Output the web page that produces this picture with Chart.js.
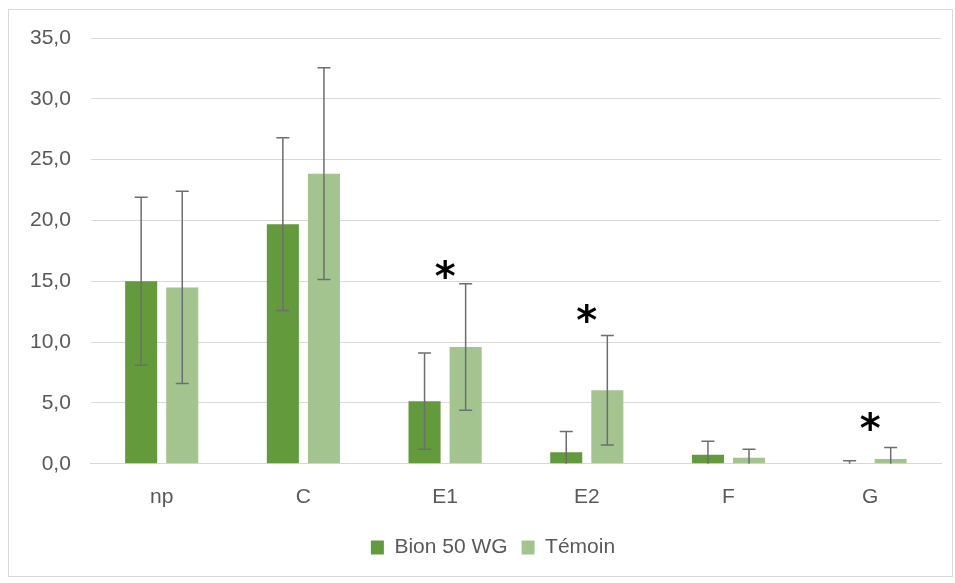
<!DOCTYPE html>
<html>
<head>
<meta charset="utf-8">
<script src="https://cdn.jsdelivr.net/npm/chart.js@4"></script>
<style>
  body { margin: 0; background: #fff; }
  #wrap { position: relative; width: 955px; height: 583px; }
  #frame { position: absolute; left: 8px; top: 9px; width: 945px; height: 568px; border: 1px solid #d9d9d9; box-sizing: border-box; pointer-events: none; }
  canvas { position: absolute; left: 0; top: 0; }
</style>
</head>
<body>
<div id="wrap">
  <canvas id="chart" width="955" height="583"></canvas>
  <div id="frame"></div>
</div>
<script>
// data
const categories = ['np', 'C', 'E1', 'E2', 'F', 'G'];
const seriesNames = ['Bion 50 WG', 'Témoin'];
const bionValues = [15.0, 19.7, 5.15, 0.95, 0.75, 0.0];
const bionErrors = [6.9, 7.1, 3.95, 1.7, 1.1, 0.25];
const temoinValues = [14.5, 23.85, 9.6, 6.05, 0.5, 0.4];
const temoinErrors = [7.9, 8.7, 5.2, 4.5, 0.7, 0.95];
const starValues = [null, null, 16.05, 12.4, null, 3.5];
const yTicks = [0, 5, 10, 15, 20, 25, 30, 35];

const errorBars = {
  id: 'errorBars',
  afterDatasetsDraw(chart) {
    const ctx = chart.ctx;
    const y = chart.scales.y;
    const errs = [bionErrors, temoinErrors];
    ctx.save();
    ctx.strokeStyle = '#6e6e6e';
    ctx.lineWidth = 1.5;
    chart.data.datasets.forEach((ds, i) => {
      chart.getDatasetMeta(i).data.forEach((bar, j) => {
        const v = ds.data[j], e = errs[i][j];
        const lo = Math.max(0, v - e), hi = v + e;
        const yTop = y.getPixelForValue(hi), yBot = y.getPixelForValue(lo);
        ctx.beginPath();
        ctx.moveTo(bar.x, yBot);
        ctx.lineTo(bar.x, yTop);
        ctx.moveTo(bar.x - 6.5, yTop);
        ctx.lineTo(bar.x + 6.5, yTop);
        if (v - e > 0) {
          ctx.moveTo(bar.x - 6.5, yBot);
          ctx.lineTo(bar.x + 6.5, yBot);
        }
        ctx.stroke();
      });
    });
    ctx.restore();
  }
};

// significance stars, centred on the value
const stars = {
  id: 'stars',
  afterDatasetsDraw(chart) {
    const ctx = chart.ctx;
    ctx.save();
    ctx.fillStyle = '#000';
    ctx.font = 'bold 40px "DejaVu Sans"';
    ctx.textAlign = 'center';
    ctx.textBaseline = 'alphabetic';
    const m = ctx.measureText('*');
    const off = (m.actualBoundingBoxAscent - m.actualBoundingBoxDescent) / 2;
    starValues.forEach((v, j) => {
      if (v === null) return;
      ctx.fillText('*', chart.scales.x.getPixelForValue(j), chart.scales.y.getPixelForValue(v) + off);
    });
    ctx.restore();
  }
};

// legend sits a bit right of the canvas centre in the original
const legendShift = {
  id: 'legendShift',
  afterLayout(chart) {
    chart.legend.left += 35;
  }
};

new Chart(document.getElementById('chart'), {
  type: 'bar',
  data: {
    labels: categories,
    datasets: [
      { label: seriesNames[0], data: bionValues, backgroundColor: '#629a3c' },
      { label: seriesNames[1], data: temoinValues, backgroundColor: '#a3c48e' }
    ]
  },
  options: {
    responsive: false,
    animation: false,
    categoryPercentage: 0.58,
    barPercentage: 0.78,
    layout: { padding: { left: 10, right: 14, top: 38, bottom: 15 } },
    scales: {
      x: {
        grid: { display: false },
        border: { color: '#d9d9d9' },
        ticks: { color: '#595959', font: { family: 'Liberation Sans', size: 21 }, padding: 13 }
      },
      y: {
        min: 0,
        max: 35,
        afterBuildTicks: (axis) => { axis.ticks = yTicks.map(v => ({ value: v })); },
        grid: { color: '#d9d9d9', drawTicks: false },
        border: { display: false },
        ticks: {
          color: '#595959',
          padding: 20,
          font: { family: 'Liberation Sans', size: 21 },
          callback: (v) => v.toFixed(1).replace('.', ',')
        }
      }
    },
    plugins: {
      legend: {
        position: 'bottom',
        labels: {
          color: '#595959',
          font: { family: 'Liberation Sans', size: 21 },
          boxWidth: 13,
          boxHeight: 14,
          padding: 14
        }
      },
      tooltip: { enabled: false }
    }
  },
  plugins: [errorBars, stars, legendShift]
});
</script>
</body>
</html>
